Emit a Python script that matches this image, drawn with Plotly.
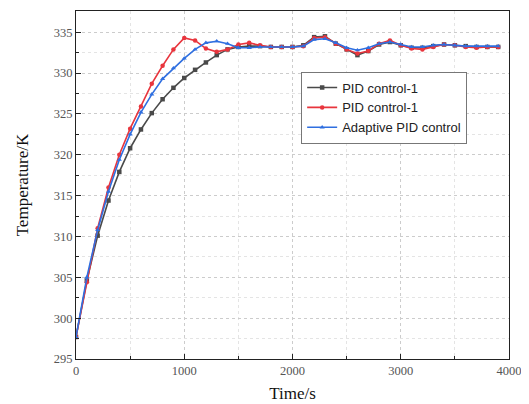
import plotly.graph_objects as go

time_s = list(range(0, 4000, 100))

pid_a = [297.7, 304.6, 310.1, 314.4, 317.9, 320.8, 323.1, 325.1, 326.8, 328.2,
         329.4, 330.4, 331.3, 332.2, 332.9, 333.2, 333.3, 333.3, 333.2, 333.2,
         333.2, 333.4, 334.4, 334.5, 333.6, 332.9, 332.2, 332.7, 333.5, 333.8,
         333.4, 333.1, 333.1, 333.3, 333.5, 333.4, 333.3, 333.2, 333.2, 333.2]

pid_b = [297.7, 304.4, 311.0, 316.0, 320.0, 323.2, 325.9, 328.7, 330.9, 332.9,
         334.3, 334.0, 333.0, 332.6, 332.9, 333.5, 333.7, 333.4, 333.2, 333.2,
         333.2, 333.3, 334.3, 334.4, 333.6, 332.9, 332.4, 332.7, 333.6, 334.0,
         333.4, 333.0, 332.9, 333.2, 333.5, 333.4, 333.2, 333.1, 333.2, 333.2]

adaptive = [297.7, 305.0, 310.8, 315.5, 319.4, 322.5, 325.2, 327.4, 329.3, 330.6,
            331.8, 332.9, 333.7, 333.9, 333.6, 333.1, 333.1, 333.2, 333.2, 333.2,
            333.2, 333.3, 334.1, 334.2, 333.7, 333.1, 332.8, 333.1, 333.6, 333.8,
            333.5, 333.2, 333.2, 333.4, 333.5, 333.4, 333.3, 333.3, 333.3, 333.3]

names = ['PID control-1', 'PID control-1', 'Adaptive PID control']
colors = ['#4a4a4a', '#e8353d', '#2f6fe0']
symbols = ['square', 'circle', 'triangle-up']

fig = go.Figure()
for ys, name, col, sym in zip([pid_a, pid_b, adaptive], names, colors, symbols):
    fig.add_trace(go.Scatter(
        x=time_s, y=ys, name=name, mode='lines+markers',
        line=dict(color=col, width=1.6),
        marker=dict(symbol=sym, size=4.5, color=col),
    ))

axis_common = dict(
    showline=True, linecolor='#222', linewidth=1.2, mirror=True,
    ticks='inside', ticklen=5, tickcolor='#222',
    showgrid=True, gridcolor='#cccccc', griddash='dot', gridwidth=1,
    zeroline=False, automargin=False,
    tickfont=dict(family='Liberation Serif', size=12.5, color='#555'),
)

# page body keeps an 8px margin, so the figure is 8px smaller than the window
fig.update_layout(
    width=521, height=396,
    margin=dict(l=68, r=20, t=3, b=45),
    paper_bgcolor='white', plot_bgcolor='white',
    font=dict(family='Liberation Serif', color='#111'),
    xaxis=dict(
        range=[0, 4000], dtick=1000,
        title=dict(text='Time/s', font=dict(size=17), standoff=10),
        minor=dict(dtick=500, ticks='inside', ticklen=3, tickcolor='#222',
                   showgrid=True, gridcolor='#e4e4e4', griddash='dot'),
        **axis_common,
    ),
    yaxis=dict(
        range=[295, 337.6], dtick=5,
        title=dict(text='Temperature/K', font=dict(size=17), standoff=20),
        minor=dict(dtick=2.5, ticks='inside', ticklen=3, tickcolor='#222',
                   showgrid=True, gridcolor='#e4e4e4', griddash='dot'),
        **axis_common,
    ),
    legend=dict(
        x=0.52, y=0.826, xanchor='left', yanchor='top',
        bgcolor='white', bordercolor='#777', borderwidth=1,
        font=dict(family='Liberation Sans', size=13, color='#222'),
        tracegroupgap=0, itemwidth=30,
    ),
)

fig.write_html("out.html")
